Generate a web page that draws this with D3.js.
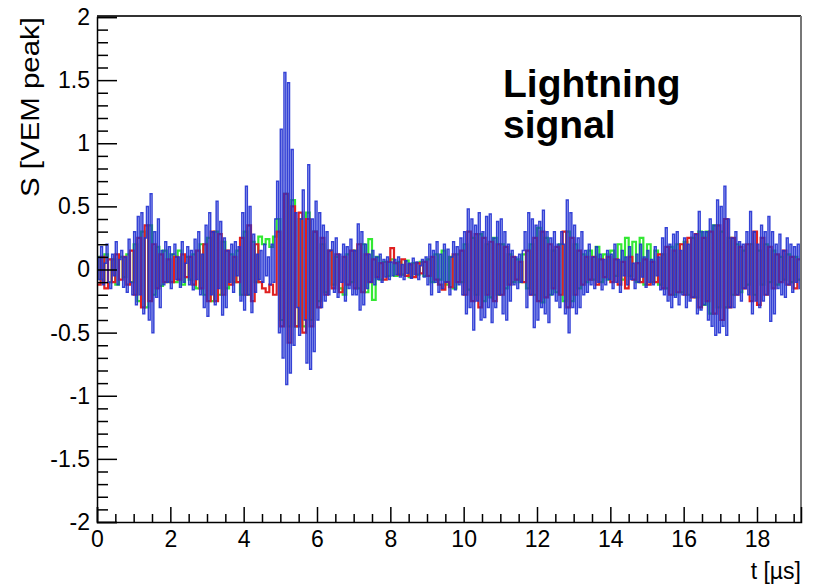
<!DOCTYPE html>
<html>
<head>
    <meta charset="UTF-8">
    <title>Lightning signal</title>
    <style>
        body { margin: 0; background: #fff; }
        text { font-family: "Liberation Sans", Arial, sans-serif; }
    </style>
</head>
<body>
    <script src="https://d3js.org/d3.v7.min.js"></script>
    <script>
        // traces, one value per bin (S in VEM peak units)
        var blueStep = 0.05 // µs
        var blueValues = [
            0.10, -0.08, 0.18, -0.12, 0.05, 0.2, -0.1, -0.15, 0.12, -0.05, 0.22, -0.12, 0.08, 0.15, -0.14, 0.1, -0.18, 0.24, -0.1, -0.2,
            0.3, -0.28, 0.42, -0.2, 0.45, -0.35, 0.25, 0.5, -0.4, 0.6, -0.5, 0.3, -0.22, 0.4, -0.3, 0.15, -0.12, 0.22, -0.1, 0.18,
            -0.15, 0.12, 0.2, -0.08, 0.1, -0.14, 0.22, -0.1, 0.05, 0.18, -0.12, 0.15, -0.16, 0.24, -0.08, 0.3, -0.2, 0.12, -0.3, 0.35,
            -0.37, 0.45, -0.2, 0.3, -0.28, 0.54, -0.15, 0.38, -0.36, 0.25, -0.3, 0.15, -0.1, 0.2, -0.18, 0.22, -0.05, 0.18, -0.25, 0.45,
            -0.32, 0.66, -0.2, 0.5, -0.34, 0.28, -0.18, 0.12, -0.08, 0.15, -0.1, 0.2, -0.05, 0.1, -0.12, 0.2, -0.1, 0.4, 0.7, -0.5,
            1.11, -0.7, 1.56, -0.91, 1.48, -0.82, 0.95, -0.6, 0.45, -0.3, -0.52, 0.4, 0.63, -0.4, -0.74, 0.83, -0.79, 0.4, -0.65, 0.54,
            -0.4, 0.45, -0.3, 0.35, -0.25, 0.3, -0.2, 0.15, 0.22, -0.18, 0.25, -0.22, 0.12, -0.1, 0.2, -0.25, 0.18, -0.15, 0.24, -0.2,
            0.15, -0.2, 0.36, -0.32, 0.3, -0.28, 0.2, -0.15, 0.12, -0.1, 0.15, -0.12, 0.1, -0.08, 0.12, -0.1, 0.08, -0.06, 0.1, -0.08,
            0.06, -0.05, 0.08, -0.04, 0.1, -0.06, 0.04, -0.08, 0.07, -0.03, 0.05, -0.07, 0.09, -0.04, 0.06, -0.08, 0.03, 0.08, -0.06, 0.1,
            -0.12, 0.2, -0.2, 0.15, -0.1, 0.22, -0.18, 0.12, -0.15, 0.2, -0.1, 0.16, -0.2, 0.1, 0.22, -0.16, 0.18, -0.12, 0.25, -0.2,
            0.3, -0.35, 0.48, -0.3, 0.4, -0.48, 0.35, -0.25, 0.45, -0.4, 0.3, -0.38, 0.42, -0.3, 0.44, -0.42, 0.25, -0.3, 0.38, -0.2,
            0.4, -0.35, 0.3, -0.4, 0.2, -0.25, 0.15, -0.12, 0.1, -0.15, 0.12, -0.1, 0.15, 0.3, -0.3, 0.45, -0.2, 0.4, -0.46, 0.35,
            -0.4, 0.38, -0.3, 0.47, -0.35, 0.3, -0.42, 0.25, -0.2, 0.3, -0.25, 0.2, -0.3, 0.3, 0.2, -0.35, 0.55, -0.5, 0.45, -0.3,
            0.35, -0.35, 0.25, -0.3, 0.3, -0.2, 0.15, -0.18, 0.2, -0.12, 0.1, -0.15, 0.18, -0.1, 0.12, -0.16, 0.08, -0.12, 0.15, -0.08,
            0.12, -0.15, 0.2, -0.1, 0.08, -0.18, 0.15, -0.05, 0.1, -0.12, 0.18, -0.08, 0.05, -0.15, 0.12, -0.1, 0.2, -0.06, 0.1, -0.14,
            0.15, -0.1, 0.08, -0.12, 0.18, -0.05, 0.1, -0.16, 0.25, -0.2, 0.33, -0.25, 0.2, -0.3, 0.28, -0.22, 0.3, -0.28, 0.15, -0.2,
            0.25, -0.3, 0.2, -0.25, 0.3, -0.22, 0.28, -0.35, 0.46, -0.32, 0.3, -0.28, 0.3, -0.4, 0.4, -0.45, 0.35, -0.52, 0.55, -0.5,
            0.5, -0.45, 0.66, -0.52, 0.4, -0.3, 0.25, -0.3, 0.3, -0.2, 0.22, -0.25, 0.2, -0.15, 0.3, -0.2, 0.46, -0.35, 0.3, -0.25,
            0.2, -0.3, 0.35, -0.25, 0.3, -0.2, 0.42, -0.41, 0.3, -0.35, 0.2, -0.15, 0.28, -0.2, 0.15, -0.22, 0.25, -0.12, 0.2, -0.18,
            0.18, -0.1, 0.2, -0.15
        ]
        var rgStep = 0.1 // µs
        var redValues = [
            -0.12, 0.1, -0.15, 0.08, -0.1, 0.12, -0.08, 0.1, -0.12, 0.15,
            -0.2, 0.25, -0.3, 0.35, -0.25, 0.2, -0.15, 0.12, -0.1, 0.08,
            -0.1, 0.1, -0.08, 0.12, -0.06, 0.1, -0.12, 0.15, -0.15, 0.2,
            -0.25, 0.3, -0.25, 0.28, -0.2, 0.15, -0.12, 0.1, -0.1, 0.25,
            -0.2, 0.35, -0.25, 0.2, -0.1, -0.15, -0.18, -0.12, -0.2, 0.3,
            -0.45, 0.6, -0.58, 0.5, -0.45, 0.45, -0.5, 0.4, -0.45, 0.3,
            -0.3, 0.25, -0.2, 0.15, -0.15, 0.12, -0.18, 0.1, -0.12, 0.15,
            -0.15, 0.2, -0.18, 0.12, -0.1, 0.08, -0.06, 0.05, -0.08, 0.06,
            0.17, 0.05, -0.04, 0.08, -0.05, 0.04, -0.06, 0.05, -0.03, 0.06,
            -0.05, 0.1, -0.08, -0.12, -0.16, -0.1, -0.14, 0.12, -0.1, 0.15,
            -0.2, 0.3, -0.25, 0.28, -0.3, 0.25, -0.2, 0.22, -0.25, 0.2,
            -0.2, 0.18, -0.12, 0.1, -0.08, 0.06, -0.1, 0.15, -0.2, 0.25,
            -0.25, 0.3, -0.22, 0.2, -0.15, 0.18, -0.2, 0.3, -0.3, 0.25,
            -0.2, 0.15, -0.12, 0.1, -0.08, 0.1, -0.12, 0.08, -0.06, 0.1,
            -0.1, 0.08, -0.12, 0.06, -0.15, 0.1, -0.08, 0.05, -0.1, 0.08,
            -0.12, 0.06, -0.1, 0.12, -0.15, 0.18, -0.2, 0.15, -0.18, 0.2,
            -0.2, 0.25, -0.22, 0.28, -0.3, 0.25, -0.25, 0.3, -0.35, 0.35,
            -0.4, 0.4, -0.3, 0.25, -0.2, 0.18, -0.15, 0.2, -0.25, 0.3,
            -0.28, 0.25, -0.2, 0.18, -0.15, 0.12, -0.1, 0.15, -0.12, 0.1,
            -0.15, 0.08
        ]
        var greenValues = [
            0.1, -0.08, 0.12, -0.1, 0.08, -0.12, 0.1, -0.06, 0.12, -0.1,
            0.2, -0.25, 0.3, -0.3, 0.35, -0.2, 0.18, -0.13, 0.15, -0.1,
            0.12, -0.1, 0.15, -0.12, 0.1, -0.08, 0.12, -0.15, 0.2, -0.2,
            0.25, -0.25, 0.3, -0.2, 0.22, -0.15, 0.12, -0.1, 0.15, -0.2,
            0.3, -0.2, 0.22, -0.1, 0.26, 0.2, 0.24, 0.18, 0.26, 0.4,
            -0.4, 0.6, -0.45, 0.55, -0.45, 0.4, -0.45, 0.45, -0.4, 0.3,
            -0.25, 0.2, -0.18, 0.15, -0.12, 0.1, -0.15, -0.2, 0.12, -0.1,
            0.15, -0.15, 0.2, -0.18, 0.24, -0.24, 0.1, -0.08, 0.06, -0.05,
            0.08, -0.05, 0.06, -0.04, 0.07, -0.06, 0.05, -0.04, 0.06, -0.05,
            0.08, -0.1, 0.12, -0.08, 0.15, -0.12, 0.1, -0.15, 0.12, -0.1,
            0.2, -0.16, 0.25, -0.2, 0.28, -0.25, 0.2, -0.22, 0.25, -0.2,
            0.2, -0.15, 0.12, -0.1, 0.08, -0.1, 0.12, -0.15, 0.2, -0.2,
            0.33, -0.26, 0.25, -0.2, 0.15, -0.18, 0.2, -0.25, 0.3, -0.25,
            0.2, -0.15, 0.12, -0.1, 0.15, -0.08, 0.18, -0.1, 0.12, -0.08,
            0.15, -0.05, 0.2, -0.08, 0.25, -0.05, 0.22, -0.1, 0.25, -0.12,
            0.2, -0.1, 0.15, -0.12, 0.12, -0.15, 0.18, -0.2, 0.2, -0.18,
            0.22, -0.2, 0.25, -0.22, 0.3, -0.28, 0.3, -0.35, 0.35, -0.3,
            0.3, -0.3, 0.25, -0.2, 0.2, -0.18, 0.15, -0.12, 0.2, -0.2,
            0.15, -0.12, 0.2, -0.1, 0.15, -0.12, 0.1, -0.08, 0.12, -0.1,
            0.1, -0.08
        ]

        // ticks
        var xMajorTicks = [0, 2, 4, 6, 8, 10, 12, 14, 16, 18]
        var xMinorTicks = [0.5, 1, 1.5, 2.5, 3, 3.5, 4.5, 5, 5.5, 6.5, 7, 7.5, 8.5, 9, 9.5, 10.5, 11, 11.5,
            12.5, 13, 13.5, 14.5, 15, 15.5, 16.5, 17, 17.5, 18.5, 19]
        var yMajorTicks = [-2, -1.5, -1, -0.5, 0, 0.5, 1, 1.5, 2]
        var yMinorTicks = [-1.9, -1.8, -1.7, -1.6, -1.4, -1.3, -1.2, -1.1, -0.9, -0.8, -0.7, -0.6,
            -0.4, -0.3, -0.2, -0.1, 0.1, 0.2, 0.3, 0.4, 0.6, 0.7, 0.8, 0.9,
            1.1, 1.2, 1.3, 1.4, 1.6, 1.7, 1.8, 1.9]

        var width = 816
        var height = 588
        // plot box ("top" is taken by window.top, so prefix names)
        var plotL = 97, plotR = 801, plotT = 17, plotB = 522

        var svg = d3.select("body").append("svg")
            .attr("width", width)
            .attr("height", height)

        var x = d3.scaleLinear().domain([0, 19.2]).range([plotL, plotR])
        var y = d3.scaleLinear().domain([-2, 2]).range([plotB, plotT])

        // histogram-like step lines
        function stepPoints(values, dt) {
            var pts = values.map(function(v, i) { return [i * dt, v] })
            pts.push([values.length * dt, values[values.length - 1]])
            return pts
        }
        var line = d3.line()
            .x(function(d) { return x(d[0]) })
            .y(function(d) { return y(d[1]) })
            .curve(d3.curveStepAfter)

        svg.append("clipPath").attr("id", "plot")
            .append("rect")
            .attr("x", plotL).attr("y", plotT)
            .attr("width", plotR - plotL).attr("height", plotB - plotT)

        var traces = svg.append("g").attr("clip-path", "url(#plot)")
        traces.append("path")
            .attr("d", line(stepPoints(greenValues, rgStep)))
            .attr("fill", "none")
            .attr("stroke", "#33e833")
            .attr("stroke-width", 2.2)
        traces.append("path")
            .attr("d", line(stepPoints(redValues, rgStep)))
            .attr("fill", "none")
            .attr("stroke", "#e02020")
            .attr("stroke-width", 2.2)
        traces.append("path")
            .attr("d", line(stepPoints(blueValues, blueStep)))
            .attr("fill", "none")
            .attr("stroke", "#1e2ed2")
            .attr("stroke-opacity", 0.9)
            .attr("stroke-width", 1.5)

        // frame: top and right
        svg.append("line")
            .attr("x1", plotL).attr("x2", plotR)
            .attr("y1", plotT - 1).attr("y2", plotT - 1)
            .attr("stroke", "#333").attr("stroke-width", 2)
        svg.append("line")
            .attr("x1", plotR).attr("x2", plotR)
            .attr("y1", plotT - 1).attr("y2", plotB)
            .attr("stroke", "#777").attr("stroke-width", 2)

        // y axis (ticks pointing inside)
        svg.append("g")
            .attr("transform", "translate(" + plotL + ",0)")
            .call(d3.axisLeft(y).tickValues(yMajorTicks).tickSize(-20).tickPadding(7)
                .tickFormat(function(d) { return String(d) }))
        svg.append("g")
            .attr("transform", "translate(" + plotL + ",0)")
            .call(d3.axisLeft(y).tickValues(yMinorTicks).tickSize(-11).tickFormat(""))
            .select(".domain").remove()

        // x axis
        svg.append("g")
            .attr("transform", "translate(0," + plotB + ")")
            .call(d3.axisBottom(x).tickValues(xMajorTicks).tickSize(-15).tickPadding(9)
                .tickFormat(function(d) { return String(d) }))
        svg.append("g")
            .attr("transform", "translate(0," + plotB + ")")
            .call(d3.axisBottom(x).tickValues(xMinorTicks).tickSize(-8).tickFormat(""))
            .select(".domain").remove()

        svg.selectAll(".domain").attr("stroke", "#000").attr("stroke-width", 1.5)
        svg.selectAll(".tick line").attr("stroke", "#000").attr("stroke-width", 1.5)
        svg.selectAll(".tick text")
            .attr("font-size", "23px")
            .attr("font-family", "Liberation Sans, Arial, sans-serif")
            .attr("fill", "#000")

        // axis titles
        svg.append("text")
            .attr("x", plotR).attr("y", 579)
            .attr("text-anchor", "end")
            .attr("font-size", "23px")
            .text("t [µs]")
        svg.append("text")
            .attr("transform", "translate(39," + plotT + ") rotate(-90)")
            .attr("text-anchor", "end")
            .attr("font-size", "25px")
            .attr("textLength", 180)
            .attr("lengthAdjust", "spacingAndGlyphs")
            .text("S [VEM peak]")

        // annotation
        var note = svg.append("text")
            .attr("font-size", "39px")
            .attr("font-weight", "bold")
            .attr("fill", "#000")
        note.append("tspan").attr("x", 503).attr("y", 97).text("Lightning")
        note.append("tspan").attr("x", 503).attr("y", 138).text("signal")
    </script>
</body>
</html>
